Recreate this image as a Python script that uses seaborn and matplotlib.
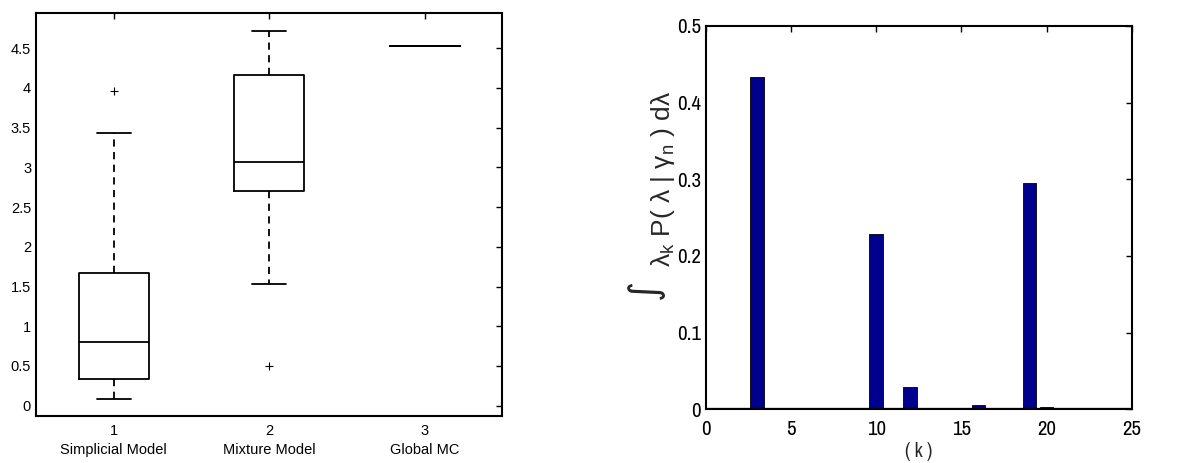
import matplotlib
matplotlib.use('Agg')
import matplotlib.pyplot as plt
from matplotlib import font_manager
import seaborn as sns
import pandas as pd

# left panel: box statistics
models = ['Simplicial Model', 'Mixture Model', 'Global MC']
medians = [0.80, 3.07, 4.53]
q1s = [0.33, 2.70, 4.53]
q3s = [1.67, 4.16, 4.53]
whis_lo = [0.09, 1.53, 4.53]
whis_hi = [3.43, 4.71, 4.53]
fliers = [[3.96], [0.50], []]

# right panel: bar heights for k = 1..25
k_vals = list(range(1, 26))
k_probs = [0, 0, 0.434, 0, 0, 0, 0, 0, 0, 0.229, 0, 0.029, 0, 0, 0.001,
           0.005, 0, 0, 0.295, 0.003, 0, 0, 0, 0, 0]

sns.set_style('white')
plt.rcParams['font.family'] = ['Liberation Sans', 'DejaVu Sans']
plt.rcParams['mathtext.fontset'] = 'custom'
plt.rcParams['mathtext.rm'] = 'Liberation Sans'
plt.rcParams['mathtext.it'] = 'Liberation Sans'
plt.rcParams['mathtext.sf'] = 'Liberation Sans'

# the right panel uses a narrow face if one is installed
names = sorted({f.name for f in font_manager.fontManager.ttflist})
narrow = [n for n in names if 'Narrow' in n or 'Condensed' in n]
narrow_fam = narrow[:1] + ['Liberation Sans']
narrow_size = 15 if narrow else 12.5

fig = plt.figure(figsize=(11.99, 4.63), dpi=100)
ax1 = fig.add_axes([0.030, 0.1015, 0.389, 0.870])
ax2 = fig.add_axes([0.5886, 0.116, 0.3553, 0.828])

stats = []
for i in range(3):
    stats.append(dict(med=medians[i], q1=q1s[i], q3=q3s[i],
                      whislo=whis_lo[i], whishi=whis_hi[i], fliers=fliers[i]))

ax1.bxp(stats, positions=[1, 2, 3], widths=0.45, capwidths=0.22,
        boxprops=dict(color='k', lw=1.3),
        medianprops=dict(color='k', lw=1.3),
        whiskerprops=dict(color='k', lw=1.3, linestyle=(0, (4, 3))),
        capprops=dict(color='k', lw=1.3),
        flierprops=dict(marker='+', markeredgecolor='k', markersize=6, markeredgewidth=0.8))
ax1.set_xlim(0.5, 3.5)
ax1.set_ylim(-0.13, 4.94)
ax1.set_yticks([0, 0.5, 1, 1.5, 2, 2.5, 3, 3.5, 4, 4.5])
ax1.set_yticklabels(['%g' % v for v in ax1.get_yticks()])
ax1.set_xticks([1, 2, 3])
ax1.set_xticklabels(['%d\n%s' % (i + 1, m) for i, m in enumerate(models)],
                    linespacing=1.4)
ax1.tick_params(direction='in', top=True, right=True, length=4, width=1,
                labelsize=10.5, colors='k')
ax1.tick_params(axis='x', pad=6)

df = pd.DataFrame({'k': k_vals, 'p': k_probs})
sns.barplot(data=df, x='k', y='p', native_scale=True, width=0.8,
            color='#00008F', saturation=1, edgecolor='k', linewidth=0.6, ax=ax2)
ax2.axhline(0, color='k', lw=1.6, zorder=5)
ax2.set_xlim(0, 25)
ax2.set_ylim(0, 0.5)
ax2.set_xticks([0, 5, 10, 15, 20, 25])
ax2.set_yticks([0, 0.1, 0.2, 0.3, 0.4, 0.5])
ax2.set_yticklabels(['%g' % v for v in ax2.get_yticks()])
ax2.tick_params(direction='in', top=True, right=True, length=4, width=1,
                labelsize=narrow_size, colors='k')
ax2.tick_params(axis='x', pad=8)
for lab in ax2.get_xticklabels() + ax2.get_yticklabels():
    lab.set_family(narrow_fam)
ax2.set_xlabel('( k )', fontsize=narrow_size - 1, family=narrow_fam, labelpad=2)

# y label: big integral sign, then the rest of the expression
ax2.set_ylabel(r'$\lambda_{\mathrm{k}}$ P( $\lambda$ | $\gamma_{\mathrm{n}}$ ) d$\lambda$',
               fontsize=19, va='center', ha='center')
ax2.yaxis.set_label_coords(-0.100, 0.60)
ax2.text(-0.142, 0.315, '\u222b', transform=ax2.transAxes, rotation=90,
         ha='center', va='center', fontsize=28, family='DejaVu Sans')

for ax in (ax1, ax2):
    for s in ax.spines.values():
        s.set_color('k')
        s.set_linewidth(1.5)

fig.savefig('out.png', dpi=100)
